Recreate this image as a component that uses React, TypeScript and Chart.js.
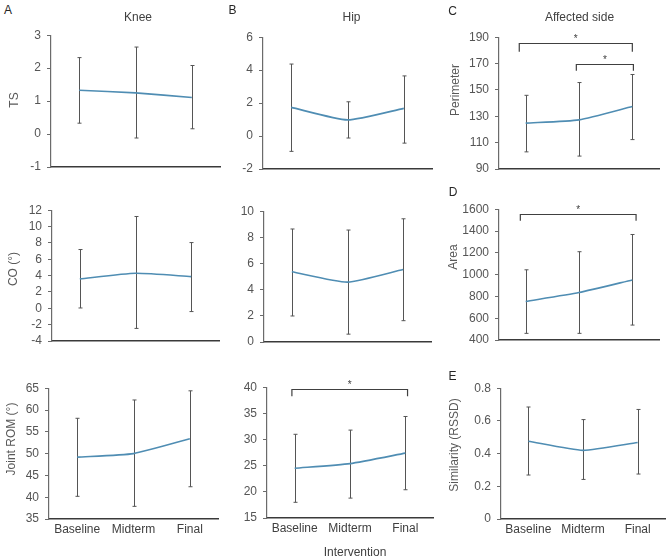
import React, { useEffect, useRef } from "react";
import { Chart, registerables } from "chart.js";

Chart.register(...registerables);

// ---------- data ----------
const categories = ["Baseline", "Midterm", "Final"];

const kneeTsMean = [1.33, 1.25, 1.11];
const kneeTsLow = [0.33, -0.12, 0.16];
const kneeTsHigh = [2.32, 2.64, 2.08];

const hipTsMean = [1.74, 0.98, 1.68];
const hipTsLow = [-0.93, -0.12, -0.43];
const hipTsHigh = [4.37, 2.08, 3.65];

const perimeterMean = [124.8, 127.3, 137.4];
const perimeterLow = [103, 99.8, 112.3];
const perimeterHigh = [145.9, 155.6, 161.7];

const kneeCoMean = [3.6, 4.28, 3.88];
const kneeCoLow = [0.04, -2.46, -0.4];
const kneeCoHigh = [7.19, 11.23, 8.04];

const hipCoMean = [5.37, 4.58, 5.54];
const hipCoLow = [1.99, 0.6, 1.63];
const hipCoHigh = [8.64, 8.56, 9.42];

const areaMean = [754, 836, 951];
const areaLow = [461, 461, 537];
const areaHigh = [1044, 1210, 1368];

const kneeRomMean = [49.2, 50.0, 53.4];
const kneeRomLow = [40.2, 37.9, 42.4];
const kneeRomHigh = [58.1, 62.3, 64.4];

const hipRomMean = [24.5, 25.4, 27.4];
const hipRomLow = [18.0, 18.8, 20.4];
const hipRomHigh = [31.0, 31.8, 34.4];

const similarityMean = [0.476, 0.42, 0.468];
const similarityLow = [0.269, 0.242, 0.275];
const similarityHigh = [0.685, 0.608, 0.67];

const perimeterBrackets = [
  { from: -0.12, to: 2, y: 185.7, drop: 179 },
  { from: 0.95, to: 2.02, y: 170, drop: 164.6 },
];
const areaBrackets = [{ from: -0.1, to: 2.07, y: 1558, drop: 1495 }];
const hipRomBrackets = [{ from: -0.05, to: 2.04, y: 39.6, drop: 38.25 }];
const sigMark = "*";

// ---------- styling / layout ----------
const FONT = '"Liberation Sans", Arial, Helvetica, sans-serif';
const LINE_COLOR = "#4f8db3";
const YW = 45;
const PT = 12;
const PR = 6;
const XH = 24;

type Bracket = { from: number; to: number; y: number; drop: number };
type PanelCfg = {
  key: string;
  rect: number[];
  mean: number[];
  low: number[];
  high: number[];
  min: number;
  max: number;
  step: number;
  showX: boolean;
  brackets: Bracket[];
};

const panels: PanelCfg[] = [
  { key: "a1", rect: [51, 34, 220, 167], mean: kneeTsMean, low: kneeTsLow, high: kneeTsHigh, min: -1, max: 3, step: 1, showX: false, brackets: [] },
  { key: "b1", rect: [263, 36, 432, 169], mean: hipTsMean, low: hipTsLow, high: hipTsHigh, min: -2, max: 6, step: 2, showX: false, brackets: [] },
  { key: "c1", rect: [499, 36, 659, 169], mean: perimeterMean, low: perimeterLow, high: perimeterHigh, min: 90, max: 190, step: 20, showX: false, brackets: perimeterBrackets },
  { key: "a2", rect: [52, 209, 219, 341], mean: kneeCoMean, low: kneeCoLow, high: kneeCoHigh, min: -4, max: 12, step: 2, showX: false, brackets: [] },
  { key: "b2", rect: [264, 210, 431, 342], mean: hipCoMean, low: hipCoLow, high: hipCoHigh, min: 0, max: 10, step: 2, showX: false, brackets: [] },
  { key: "d", rect: [499, 208, 659, 340], mean: areaMean, low: areaLow, high: areaHigh, min: 400, max: 1600, step: 200, showX: false, brackets: areaBrackets },
  { key: "a3", rect: [49, 387, 218, 519], mean: kneeRomMean, low: kneeRomLow, high: kneeRomHigh, min: 35, max: 65, step: 5, showX: true, brackets: [] },
  { key: "b3", rect: [267, 386, 433, 518], mean: hipRomMean, low: hipRomLow, high: hipRomHigh, min: 15, max: 40, step: 5, showX: true, brackets: hipRomBrackets },
  { key: "e", rect: [501, 387, 665, 519], mean: similarityMean, low: similarityLow, high: similarityHigh, min: 0, max: 0.8, step: 0.2, showX: true, brackets: [] },
];

function geom(rect: number[]) {
  const [l, t, r, b] = rect;
  const x = l - YW;
  const y = t - PT;
  return { x, y, w: r + PR - x, h: b + XH - y };
}

function Panel({ p }: { p: PanelCfg }) {
  const ref = useRef<HTMLCanvasElement | null>(null);
  useEffect(() => {
    if (!ref.current) return;
    const errorBars = {
      id: "errorBars_" + p.key,
      beforeDatasetsDraw(chart: any) {
        const { ctx, scales } = chart;
        const xs = scales.x;
        const ys = scales.y;
        ctx.save();
        ctx.strokeStyle = "#555555";
        ctx.lineWidth = 1;
        p.mean.forEach((_v, i) => {
          const px = Math.round(xs.getPixelForValue(i)) + 0.5;
          const y1 = ys.getPixelForValue(p.low[i]);
          const y2 = ys.getPixelForValue(p.high[i]);
          ctx.beginPath();
          ctx.moveTo(px, y1);
          ctx.lineTo(px, y2);
          ctx.moveTo(px - 2, y1);
          ctx.lineTo(px + 2, y1);
          ctx.moveTo(px - 2, y2);
          ctx.lineTo(px + 2, y2);
          ctx.stroke();
        });
        ctx.restore();
      },
      afterDatasetsDraw(chart: any) {
        const { ctx, scales } = chart;
        const xs = scales.x;
        const ys = scales.y;
        ctx.save();
        p.brackets.forEach((br) => {
          const x1 = xs.getPixelForValue(br.from);
          const x2 = xs.getPixelForValue(br.to);
          const yb = Math.round(ys.getPixelForValue(br.y)) + 0.5;
          const yd = ys.getPixelForValue(br.drop);
          ctx.strokeStyle = "#404040";
          ctx.lineWidth = 1.2;
          ctx.beginPath();
          ctx.moveTo(x1, yd);
          ctx.lineTo(x1, yb);
          ctx.lineTo(x2, yb);
          ctx.lineTo(x2, yd);
          ctx.stroke();
          ctx.fillStyle = "#404040";
          ctx.font = "10px " + FONT;
          ctx.textAlign = "center";
          ctx.textBaseline = "alphabetic";
          ctx.fillText(sigMark, (x1 + x2) / 2, yb - 2);
        });
        ctx.restore();
      },
    };
    const chart = new Chart(ref.current, {
      type: "line",
      data: {
        labels: categories,
        datasets: [
          {
            data: p.mean,
            borderColor: LINE_COLOR,
            borderWidth: 1.6,
            pointRadius: 0,
            pointHoverRadius: 0,
            tension: 0.18,
            fill: false,
          },
        ],
      },
      options: {
        animation: false,
        responsive: false,
        maintainAspectRatio: false,
        devicePixelRatio: 1,
        events: [],
        layout: { padding: { top: PT, right: PR, left: 0, bottom: 0 }, autoPadding: false },
        plugins: { legend: { display: false }, tooltip: { enabled: false }, title: { display: false } },
        scales: {
          x: {
            type: "category",
            offset: true,
            grid: { display: false, drawTicks: false },
            border: { display: true, color: "#3a3a3a", width: 1.5 },
            ticks: {
              display: p.showX,
              color: "#404040",
              font: { family: FONT, size: 12 },
              padding: 3,
              maxRotation: 0,
              autoSkip: false,
            },
            afterFit: (s: any) => {
              s.height = XH;
            },
          },
          y: {
            type: "linear",
            min: p.min,
            max: p.max,
            ticks: {
              stepSize: p.step,
              autoSkip: false,
              color: "#555555",
              font: { family: FONT, size: 12 },
              padding: 6,
              callback: (v: any) => String(Math.round(Number(v) * 1000) / 1000),
            },
            grid: {
              display: true,
              drawOnChartArea: false,
              drawTicks: true,
              tickLength: 4,
              color: "#6b6b6b",
              lineWidth: 1,
            },
            border: { display: true, color: "#6b6b6b", width: 1.2 },
            afterFit: (s: any) => {
              s.width = YW;
            },
          },
        },
      },
      plugins: [errorBars],
    } as any);
    return () => chart.destroy();
  }, []);
  const g = geom(p.rect);
  return (
    <canvas
      ref={ref}
      width={g.w}
      height={g.h}
      style={{ position: "absolute", left: g.x, top: g.y, width: g.w, height: g.h }}
    />
  );
}

type Txt = { text: string; x: number; y: number; size: number; color: string; rotate?: boolean };

const labels: Txt[] = [
  { text: "A", x: 8, y: 10, size: 12, color: "#262626" },
  { text: "B", x: 232.5, y: 9.5, size: 12, color: "#262626" },
  { text: "C", x: 452.5, y: 11, size: 12, color: "#262626" },
  { text: "D", x: 453, y: 192, size: 12, color: "#262626" },
  { text: "E", x: 452.5, y: 375.5, size: 12, color: "#262626" },
  { text: "Knee", x: 138, y: 17, size: 12, color: "#404040" },
  { text: "Hip", x: 351.5, y: 17, size: 12, color: "#404040" },
  { text: "Affected side", x: 579.5, y: 16.5, size: 12, color: "#404040" },
  { text: "Intervention", x: 355, y: 551.5, size: 12, color: "#404040" },
  { text: "TS", x: 13.5, y: 100, size: 12, color: "#595959", rotate: true },
  { text: "CO (°)", x: 12.5, y: 269, size: 12, color: "#595959", rotate: true },
  { text: "Joint ROM (°)", x: 10.5, y: 439, size: 12, color: "#595959", rotate: true },
  { text: "Perimeter", x: 455, y: 90, size: 12, color: "#595959", rotate: true },
  { text: "Area", x: 452.5, y: 256.5, size: 12, color: "#595959", rotate: true },
  { text: "Similarity (RSSD)", x: 454, y: 445, size: 12, color: "#595959", rotate: true },
];

export default function App() {
  return (
    <div
      style={{
        position: "fixed",
        left: 0,
        top: 0,
        width: 669,
        height: 559,
        background: "#ffffff",
        overflow: "hidden",
        fontFamily: FONT,
      }}
    >
      {panels.map((p) => (
        <Panel key={p.key} p={p} />
      ))}
      {labels.map((t, i) => (
        <div
          key={i}
          style={{
            position: "absolute",
            left: t.x,
            top: t.y,
            transform: "translate(-50%, -50%)" + (t.rotate ? " rotate(-90deg)" : ""),
            whiteSpace: "nowrap",
            fontSize: t.size,
            lineHeight: 1,
            color: t.color,
          }}
        >
          {t.text}
        </div>
      ))}
    </div>
  );
}
